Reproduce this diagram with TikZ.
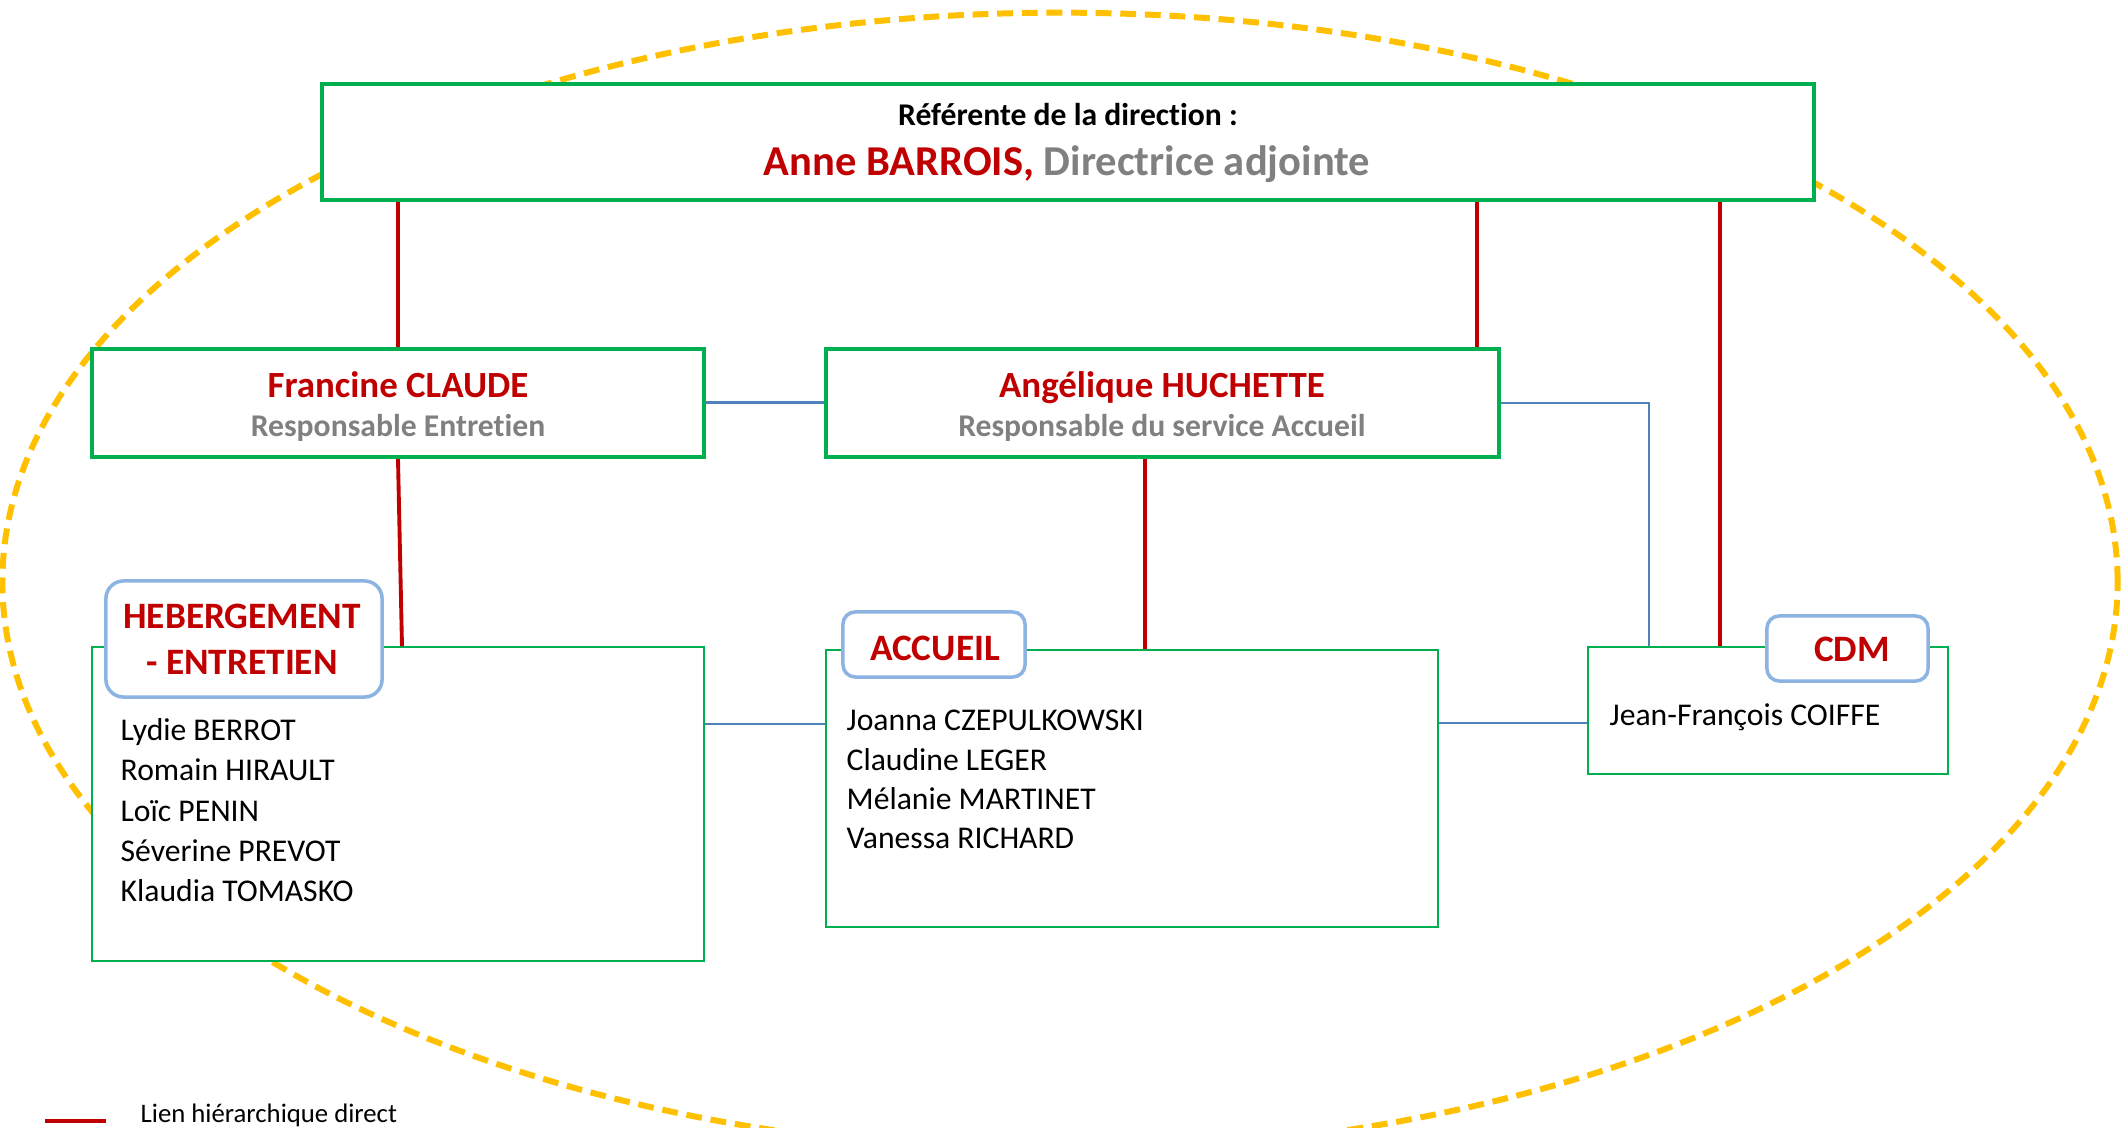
\documentclass[tikz,border=0pt]{standalone}
\usepackage{fontspec}
\setmainfont{Carlito}[Ligatures=NoCommon, RawFeature={-liga}]
\definecolor{boxgreen}{HTML}{00B050}
\definecolor{darkred}{HTML}{C00000}
\definecolor{rolegrey}{HTML}{808080}
\definecolor{tabblue}{HTML}{8DB3E2}
\definecolor{linkblue}{HTML}{4F81BD}
\definecolor{ellgold}{HTML}{FFC000}
\tikzset{
  thickbox/.style={draw=boxgreen, fill=white, line width=1.15pt, inner sep=0pt},
  thinbox/.style={draw=boxgreen, fill=white, line width=0.5pt, inner sep=0pt},
  tabbox/.style={draw=tabblue, fill=white, line width=1pt, inner sep=0pt},
  hier/.style={draw=darkred, line width=1.1pt},
  link/.style={draw=linkblue, line width=0.5pt},
  linkthick/.style={draw=linkblue, line width=0.85pt},
  member/.style={anchor=base west, inner sep=0pt, font=\fontsize{9}{11}\selectfont},
  roletext/.style={anchor=base, inner sep=0pt, text=rolegrey, font=\fontsize{9}{11}\selectfont\bfseries},
  nametext/.style={anchor=base, inner sep=0pt, text=darkred, font=\fontsize{10.5}{12}\selectfont\bfseries},
  tabtext/.style={anchor=base, inner sep=0pt, text=darkred, font=\fontsize{10.6}{12}\selectfont\bfseries},
}
\begin{document}
\begin{tikzpicture}[x=0.01cm,y=-0.01cm]
\path[use as bounding box, clip] (0,0) rectangle (2123,1128);
\fill[white] (0,0) rectangle (2123,1128);
% dashed ellipse
\draw[ellgold, line width=1.7pt, dash pattern=on 4.5pt off 2.5pt] (1060,582) ellipse [x radius=10.57cm, y radius=5.69cm];
% boxes
\node[thickbox, minimum width=14.92cm, minimum height=1.16cm] (top) at (1068,142) {};
\node[thickbox, minimum width=6.12cm, minimum height=1.08cm] (fc) at (398,403) {};
\node[thickbox, minimum width=6.73cm, minimum height=1.08cm] (ah) at (1162.5,403) {};
\node[thinbox, minimum width=6.12cm, minimum height=3.14cm] (heb) at (398,804) {};
\node[thinbox, minimum width=6.12cm, minimum height=2.77cm] (acc) at (1132,788.5) {};
\node[thinbox, minimum width=3.60cm, minimum height=1.27cm] (cdm) at (1768,710.5) {};
% hierarchical links
\draw[hier] (fc.north |- top.south) -- (fc.north);
\draw[hier] (1477,0 |- top.south) -- (1477,0 |- ah.north);
\draw[hier] (1720,0 |- top.south) -- (1720,0 |- cdm.north);
\draw[hier] (fc.south) -- (402,0 |- heb.north);
\draw[hier] (1145,0 |- ah.south) -- (1145,0 |- acc.north);
% functional links
\draw[linkthick] (fc.east) -- (ah.west);
\draw[link] (ah.east) -| (1649,0 |- cdm.north);
\draw[link] (heb.east |- 0,724) -- (acc.west |- 0,724);
\draw[link] (acc.east |- 0,723) -- (cdm.west |- 0,723);
% tabs
\node[tabbox, rounded corners=5pt, minimum width=2.76cm, minimum height=1.16cm] (hebtab) at (244,639) {};
\node[tabbox, rounded corners=3.5pt, minimum width=1.82cm, minimum height=0.65cm] (acctab) at (934,644.5) {};
\node[tabbox, rounded corners=3.5pt, minimum width=1.61cm, minimum height=0.65cm] (cdmtab) at (1847.5,648.5) {};
% texts
\node[anchor=base, inner sep=0pt, font=\fontsize{9}{11}\selectfont\bfseries] (toplabel) at (1068,126) {Référente de la direction :};
\node[anchor=base, inner sep=0pt, font=\fontsize{12.1}{14}\selectfont\bfseries] (topname) at (1067,176) {\textcolor{darkred}{Anne BARROIS,} \textcolor{rolegrey}{Directrice adjointe}};
\node[nametext] (fcname) at (398,398) {Francine CLAUDE};
\node[roletext] (fcrole) at (398,437) {Responsable Entretien};
\node[nametext] (ahname) at (1162,398) {Angélique HUCHETTE};
\node[roletext] (ahrole) at (1162,437) {Responsable du service Accueil};
\node[tabtext] (hebt1) at (242,629) {HEBERGEMENT};
\node[tabtext] (hebt2) at (242,675) {- ENTRETIEN};
\node[tabtext] (acct) at (935,661) {ACCUEIL};
\node[tabtext] (cdmt) at (1852,662) {CDM};
\node[member] (m1) at (120,741) {Lydie BERROT};
\node[member] (m2) at (120,781) {Romain HIRAULT};
\node[member] (m3) at (120,822) {Loïc PENIN};
\node[member] (m4) at (120,862) {Séverine PREVOT};
\node[member] (m5) at (120,902) {Klaudia TOMASKO};
\node[member] (a1) at (846,731) {Joanna CZEPULKOWSKI};
\node[member] (a2) at (846,771) {Claudine LEGER};
\node[member] (a3) at (846,810) {Mélanie MARTINET};
\node[member] (a4) at (846,849) {Vanessa RICHARD};
\node[member] (c1) at (1609,726) {Jean-François COIFFE};
% legend
\coordinate (lg1) at (45,1121);
\coordinate (lg2) at (106,1121);
\draw[hier, line width=1.2pt] (lg1) -- (lg2);
\node[anchor=base west, inner sep=0pt, font=\fontsize{7.6}{9}\selectfont] (lgtext) at (140,1123) {Lien hiérarchique direct};
\end{tikzpicture}
\end{document}
